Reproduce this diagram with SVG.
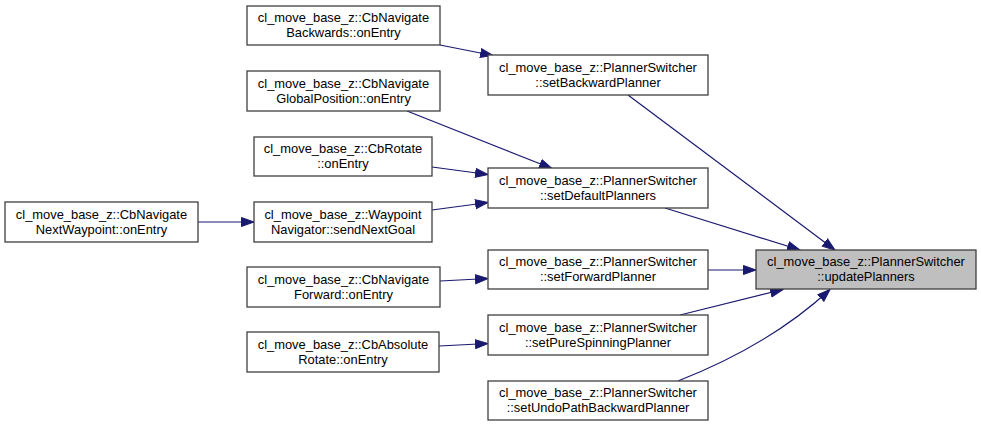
<svg xmlns="http://www.w3.org/2000/svg" width="981" height="427" viewBox="0 0 981 427">
<style>
.n rect{fill:#ffffff;stroke:#404040;stroke-width:1.3}
.n.h rect{fill:#bfbfbf}
text{font-family:"Liberation Sans",Arial,sans-serif;font-size:12.9px;text-anchor:middle;fill:#000}
.e path{fill:none;stroke:#191970;stroke-width:1.2;marker-end:url(#ah)}
</style>
<defs>
<marker id="ah" markerUnits="userSpaceOnUse" markerWidth="15" markerHeight="11" refX="13" refY="5" orient="auto" viewBox="0 0 15 10">
<path d="M0.5,0.5 L13,5 L0.5,9.5 z" fill="#191970" stroke="#191970" stroke-width="1"/>
</marker>
</defs>
<rect width="981" height="427" fill="#ffffff"/>
<g id="connectors" class="e">
<path d="M440,45 L493,55.5"/>
<path d="M407,111 L552,168.5"/>
<path d="M432,167 L488,174.5"/>
<path d="M432,210 L488,202.5"/>
<path d="M198,222 L254,222"/>
<path d="M440,281 L488,278.5"/>
<path d="M439,346 L488,343.5"/>
<path d="M628,95 L835,250"/>
<path d="M665,208 L800,250"/>
<path d="M708,270 L756,270"/>
<path d="M680,315 L783,289.5"/>
<path d="M678,381 Q770,345 830,289.5"/>
</g>
<g id="node_updatePlanners" class="n h"><rect x="756" y="250" width="220" height="39"/><text x="866" y="266">cl_move_base_z::PlannerSwitcher</text><text x="866" y="281">::updatePlanners</text></g>
<g id="node_setBackwardPlanner" class="n"><rect x="488" y="55" width="220" height="40"/><text x="598" y="71.5">cl_move_base_z::PlannerSwitcher</text><text x="598" y="86.5">::setBackwardPlanner</text></g>
<g id="node_setDefaultPlanners" class="n"><rect x="488" y="168" width="220" height="40"/><text x="598" y="184.5">cl_move_base_z::PlannerSwitcher</text><text x="598" y="199.5">::setDefaultPlanners</text></g>
<g id="node_setForwardPlanner" class="n"><rect x="488" y="250" width="220" height="39"/><text x="598" y="266">cl_move_base_z::PlannerSwitcher</text><text x="598" y="281">::setForwardPlanner</text></g>
<g id="node_setPureSpinningPlanner" class="n"><rect x="488" y="315" width="220" height="40"/><text x="598" y="331.5">cl_move_base_z::PlannerSwitcher</text><text x="598" y="346.5">::setPureSpinningPlanner</text></g>
<g id="node_setUndoPathBackwardPlanner" class="n"><rect x="488" y="381" width="220" height="39"/><text x="598" y="397">cl_move_base_z::PlannerSwitcher</text><text x="598" y="412">::setUndoPathBackwardPlanner</text></g>
<g id="node_Backwards" class="n"><rect x="247" y="6" width="193" height="39"/><text x="343.5" y="22">cl_move_base_z::CbNavigate</text><text x="343.5" y="37">Backwards::onEntry</text></g>
<g id="node_GlobalPosition" class="n"><rect x="247" y="71" width="193" height="40"/><text x="343.5" y="87.5">cl_move_base_z::CbNavigate</text><text x="343.5" y="102.5">GlobalPosition::onEntry</text></g>
<g id="node_CbRotate" class="n"><rect x="254" y="137" width="178" height="39"/><text x="343" y="153">cl_move_base_z::CbRotate</text><text x="343" y="168">::onEntry</text></g>
<g id="node_WaypointNavigator" class="n"><rect x="254" y="202" width="178" height="40"/><text x="343" y="218.5">cl_move_base_z::Waypoint</text><text x="343" y="233.5">Navigator::sendNextGoal</text></g>
<g id="node_NextWaypoint" class="n"><rect x="5" y="202" width="193" height="40"/><text x="101.5" y="218.5">cl_move_base_z::CbNavigate</text><text x="101.5" y="233.5">NextWaypoint::onEntry</text></g>
<g id="node_Forward" class="n"><rect x="247" y="267" width="193" height="40"/><text x="343.5" y="283.5">cl_move_base_z::CbNavigate</text><text x="343.5" y="298.5">Forward::onEntry</text></g>
<g id="node_AbsoluteRotate" class="n"><rect x="247" y="332" width="192" height="40"/><text x="343" y="348.5">cl_move_base_z::CbAbsolute</text><text x="343" y="363.5">Rotate::onEntry</text></g>
</svg>
